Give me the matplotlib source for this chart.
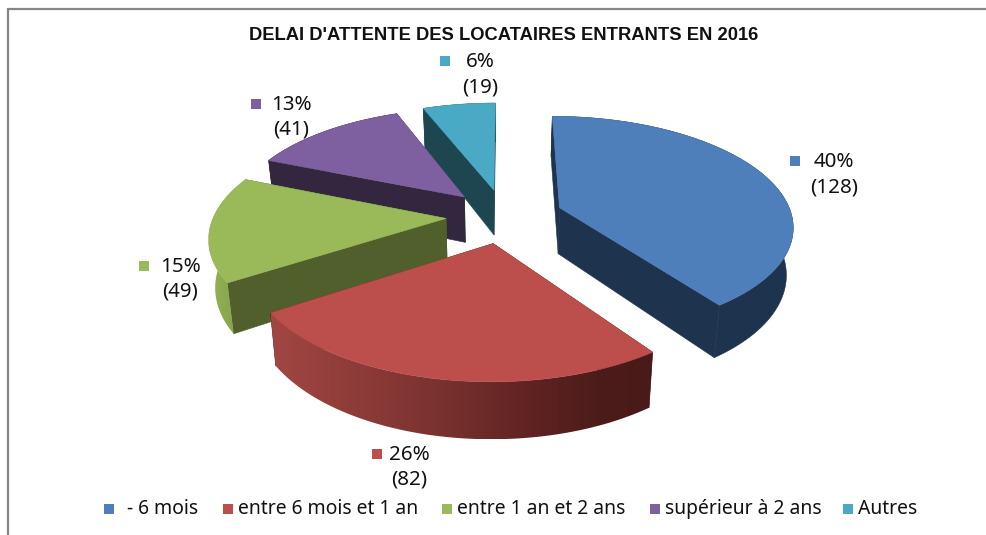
import numpy as np
import matplotlib
matplotlib.use("Agg")
import matplotlib.pyplot as plt
from matplotlib.colors import LinearSegmentedColormap
from matplotlib.patches import Polygon, Rectangle

plt.rcParams["font.family"] = ["Noto Sans", "DejaVu Sans"]

TITLE = "DELAI D'ATTENTE DES LOCATAIRES ENTRANTS EN 2016"
categories = ["- 6 mois", "entre 6 mois et 1 an", "entre 1 an et 2 ans", "supérieur à 2 ans", "Autres"]
values = [128, 82, 49, 41, 19]

top_colors = ["#4E7FBB", "#BC4E4B", "#9ABA59", "#7E60A0", "#4AA9C5"]
wall_colors = ["#1E334E", "#4F1E1C", "#505F2C", "#33273F", "#1D4650"]
# rim shading, left to right, only the slices that show one
rim_shades = {
    1: [(0, "#A24643"), (0.42, "#7B3330"), (0.68, "#5F2322"), (0.86, "#4C1C1A"), (1, "#4A1A18")],
    2: [(0, "#93B254"), (1, "#7F9B48")],
}

# projection of the tilted pie, fitted on the reference
X0, Y0, RX, RY, PERSP = 504.48, 215.89, 232.25, 107.64, 0.1528
EXPLODE = 0.2519
DEPTH = 46.5
# the lower face is a bit further away, so a bit narrower
BOTTOM_AXIS, BOTTOM_SCALE = 497, 0.977

# where the data labels and the legend entries sit, in pixels (key x, key y, text x)
label_pos = [(795, 161, 834), (377, 454, 409), (144, 266, 180), (256, 104, 291), (445, 61, 480)]
legend_keys = [109, 228, 447, 655, 848]
legend_text = [127, 238, 457, 665, 858]

total = sum(values)
edges = np.cumsum([0] + values) / total * 2 * np.pi
mids = (edges[:-1] + edges[1:]) / 2


def project(X, Y, z=0.0):
    s = 1 / (1 + PERSP * Y)
    px = X0 + RX * X * s
    if z:
        px = BOTTOM_AXIS + (px - BOTTOM_AXIS) * BOTTOM_SCALE
    return np.column_stack([px, Y0 - RY * Y * s + z * s])


def draw_slice(ax, i, zorder):
    ax0, ay0 = EXPLODE * np.sin(mids[i]), EXPLODE * np.cos(mids[i])
    t = np.linspace(edges[i], edges[i + 1], 90)
    X = ax0 + np.sin(t)
    Y = ay0 + np.cos(t)
    apex_top = project(np.array([ax0]), np.array([ay0]))
    apex_bot = project(np.array([ax0]), np.array([ay0]), DEPTH)
    rim_top = project(X, Y)
    rim_bot = project(X, Y, DEPTH)

    # radial walls first, then the rim, the top face hides what faces away
    for k in (0, -1):
        pts = np.vstack([apex_top, rim_top[k], rim_bot[k], apex_bot])
        ax.add_patch(Polygon(pts, closed=True, fc=wall_colors[i], ec=wall_colors[i], lw=0.4, zorder=zorder))

    rim = np.vstack([rim_top, rim_bot[::-1]])
    if i in rim_shades:
        cmap = LinearSegmentedColormap.from_list("rim", rim_shades[i])
        x1, x2 = rim[:, 0].min(), rim[:, 0].max()
        y1, y2 = rim[:, 1].min(), rim[:, 1].max()
        img = ax.imshow(np.linspace(0, 1, 256)[None, :], cmap=cmap, extent=(x1, x2, y2, y1),
                        aspect="auto", zorder=zorder + 1)
        clip = Polygon(rim, closed=True, transform=ax.transData, fc="none", ec="none")
        ax.add_patch(clip)
        img.set_clip_path(clip)
    else:
        ax.add_patch(Polygon(rim, closed=True, fc=wall_colors[i], ec=wall_colors[i], lw=0.4, zorder=zorder + 1))

    top = np.vstack([apex_top, rim_top])
    ax.add_patch(Polygon(top, closed=True, fc=top_colors[i], ec=top_colors[i], lw=0.4, zorder=zorder + 2))


fig = plt.figure(figsize=(9.86, 5.35), dpi=100)
ax = fig.add_axes([0, 0, 1, 1])
ax.axis("off")

# chart frame, only top and left are in the crop
ax.plot([7.5, 986], [8.5, 8.5], color="#868686", lw=1.6, solid_capstyle="butt")
ax.plot([7.5, 7.5], [8, 535], color="#868686", lw=1.6, solid_capstyle="butt")

ax.text(504, 35.5, TITLE, ha="center", va="center", fontsize=13.2, fontweight="bold",
        family=["Liberation Sans", "DejaVu Sans"], color="#111111")

for n, i in enumerate([4, 3, 0, 2, 1]):
    draw_slice(ax, i, 2 + n * 3)

for i, (kx, ky, tx) in enumerate(label_pos):
    ax.add_patch(Rectangle((kx - 5, ky - 5), 10, 10, fc=top_colors[i], ec="none", zorder=30))
    pct = round(values[i] / total * 100)
    ax.text(tx, ky + 1, f"{pct}%", ha="center", va="center", fontsize=14.8, color="#111111", zorder=31)
    ax.text(tx, ky + 26, f"({values[i]})", ha="center", va="center", fontsize=14.8, color="#111111", zorder=31)

for i, name in enumerate(categories):
    ax.add_patch(Rectangle((legend_keys[i] - 5, 504), 10, 10, fc=top_colors[i], ec="none", zorder=30))
    ax.text(legend_text[i], 509, name, ha="left", va="center", fontsize=13.9, color="#111111", zorder=31)

ax.set_xlim(0, 986)
ax.set_ylim(535, 0)
fig.savefig("out.png", dpi=100)
